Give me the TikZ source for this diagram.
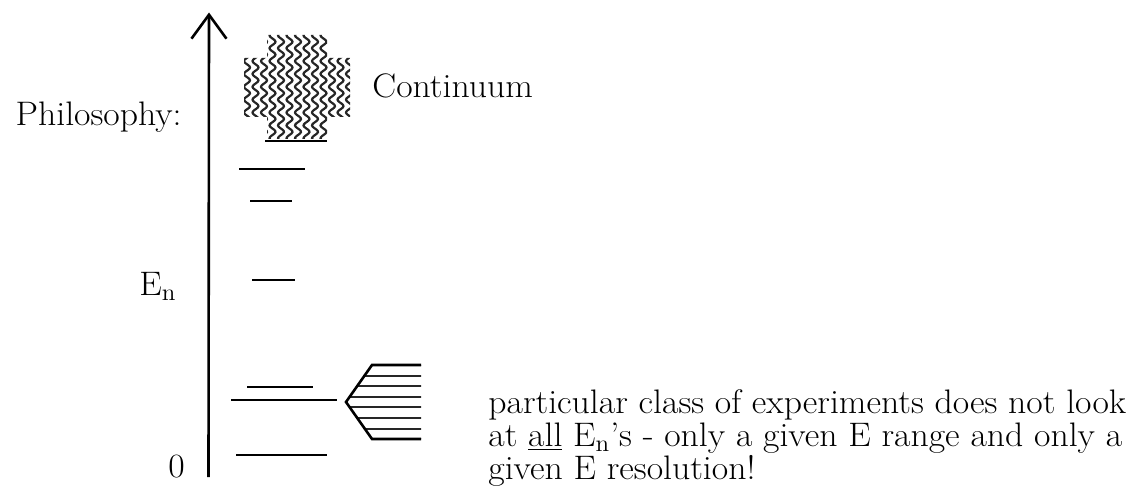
\documentclass[tikz,border=0pt]{standalone}
\usetikzlibrary{arrows.meta}
\newcommand{\wdtxt}[1]{\scalebox{1.05}[1]{#1}}
\begin{document}
\begin{tikzpicture}[x=0.5pt,y=-0.5pt,
  lvl/.style={line width=1.3pt},
  axisline/.style={line width=1.3pt,-{Straight Barb[length=12pt,width=17.5pt,line width=1.3pt]}},
  wave/.style={line width=1.1pt,black!85},
  hatchline/.style={line width=1pt,black!85},
  lbl/.style={inner sep=0pt,font=\fontsize{17}{20}\selectfont}]
\useasboundingbox (0,0) rectangle (1143,491);
% axis
\coordinate (axb) at (208.5,477);
\coordinate (axt) at (209,12.5);
\draw[axisline] (axb) -- (axt);
% labels
\node[lbl,anchor=base east] (phil) at (182,126) {\wdtxt{Philosophy:}};
\node[lbl,anchor=base west] (en) at (139,295) {\wdtxt{E\textsubscript{n}}};
\node[lbl,anchor=base west] (zero) at (168,477) {\wdtxt{0}};
\node[lbl,anchor=base west] (cont) at (372,98) {\wdtxt{Continuum}};
\node[lbl,anchor=base west] (para) at (488,413) {\vtop{\baselineskip=16.5pt\lineskiplimit=-20pt
  \hbox{\wdtxt{particular class of experiments does not look}}
  \hbox{\wdtxt{at \underline{all} E\textsubscript{n}’s - only a given E range and only a}}
  \hbox{\wdtxt{given E resolution!}}}};
% levels
\draw[lvl] (239,169) -- (305,169);
\draw[lvl] (250,201) -- (292,201);
\draw[lvl] (252,280) -- (295,280);
\draw[lvl] (247,387) -- (313,387);
\draw[lvl] (231,400) -- (337,400);
\draw[lvl] (236,455) -- (327,455);
% continuum
\begin{scope}
  \clip (267,35) rectangle (327,139) (244,58) rectangle (350,117);
  \foreach \c in {247,255.5,...,350}
    \draw[wave] plot[variable=\t,domain=30:145,samples=90,smooth] ({\c+3*sin(28*\t)},\t);
\end{scope}
\draw[lvl] (265,141) -- (327,141);
% hatched pentagon
\begin{scope}
  \clip (346,402) -- (372,365) -- (421,365) -- (421,439) -- (372,439) -- cycle;
  \foreach \h in {365,375.6,...,440}
    \draw[hatchline] (340,\h) -- (425,\h);
\end{scope}
\draw[lvl,line join=miter] (421,365) -- (372,365) -- (346,402) -- (372,439) -- (421,439);
\end{tikzpicture}
\end{document}
